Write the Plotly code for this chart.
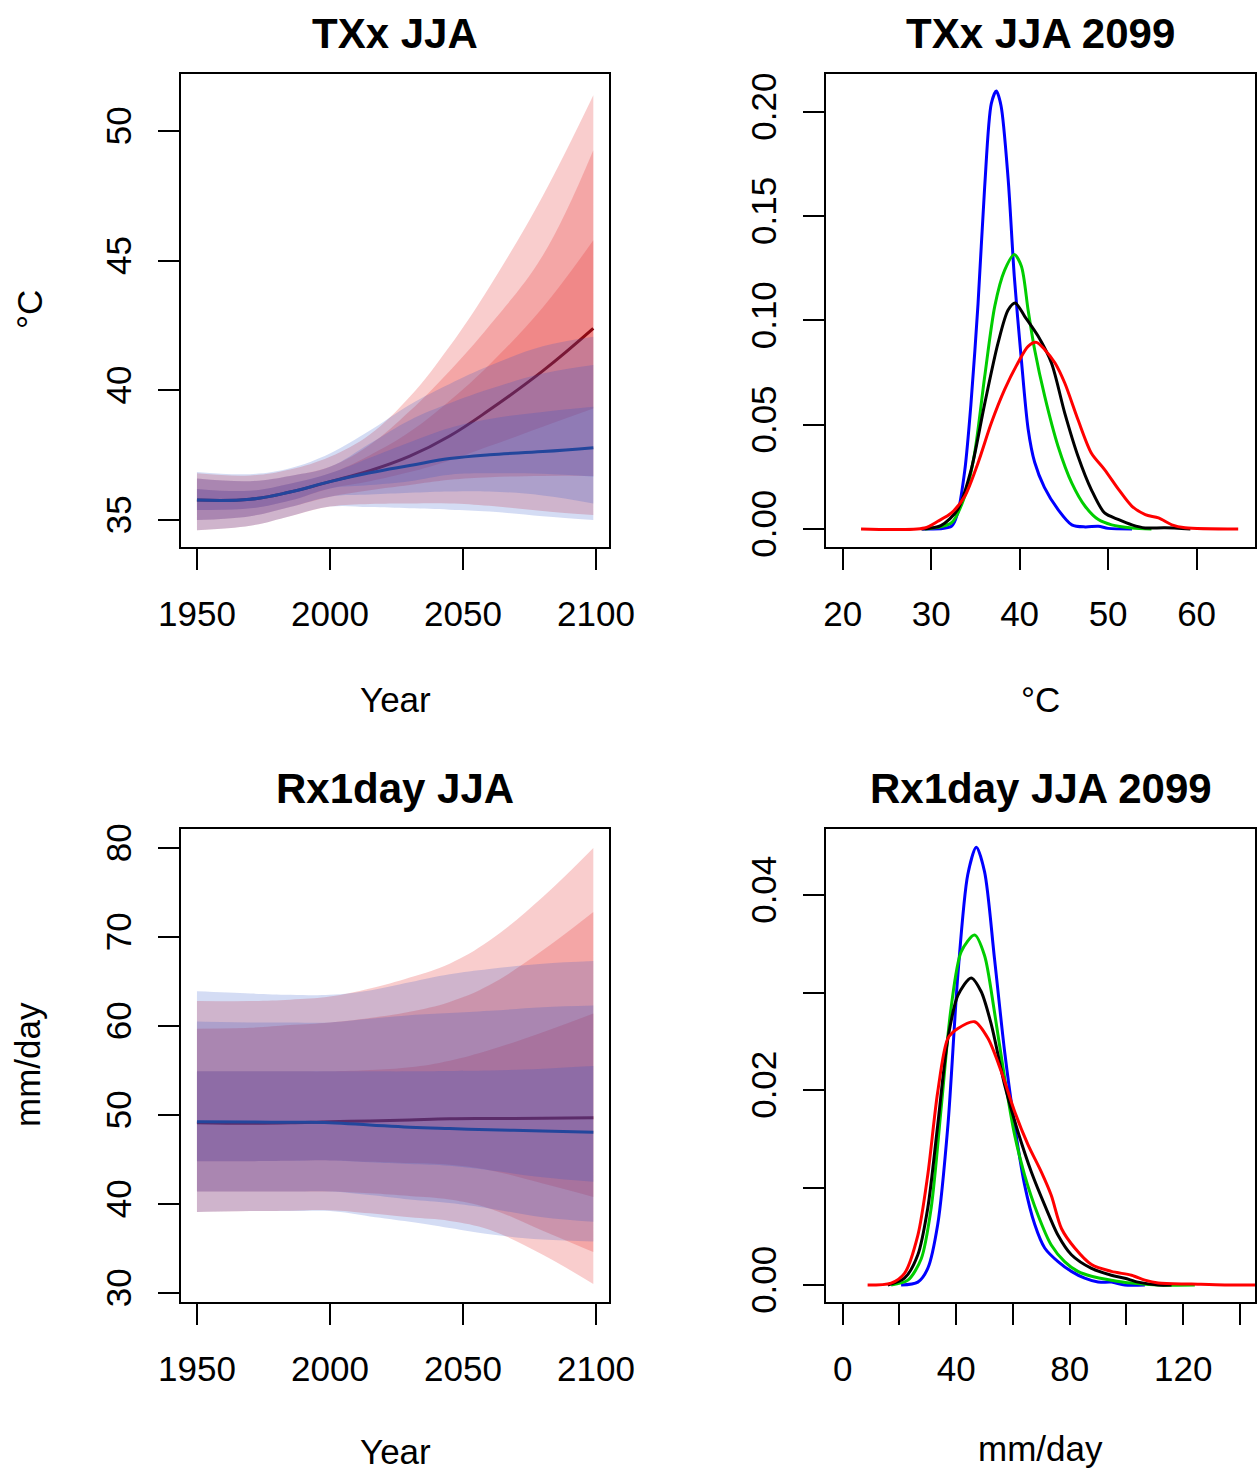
import plotly.graph_objects as go

# ---------------- data ----------------
years = [1950, 1970, 1985, 2000, 2015, 2030, 2045, 2060, 2080, 2099]

# TXx JJA (deg C) - high scenario (red)
txx_hi_med   = [35.77, 35.80, 36.08, 36.48, 36.90, 37.46, 38.24, 39.25, 40.75, 42.39]
txx_hi_in_lo = [35.39, 35.45, 35.75, 36.22, 36.50, 36.85, 37.30, 37.85, 38.60, 39.30]
txx_hi_in_hi = [36.20, 36.13, 36.40, 36.80, 37.50, 38.40, 39.60, 41.00, 43.20, 45.79]
txx_hi_md_lo = [35.00, 35.15, 35.50, 35.90, 36.15, 36.35, 36.55, 36.65, 36.70, 36.70]
txx_hi_md_hi = [36.60, 36.50, 36.70, 37.05, 37.90, 39.20, 40.75, 42.50, 45.20, 49.26]
txx_hi_ot_lo = [34.61, 34.78, 35.15, 35.52, 35.62, 35.64, 35.64, 35.55, 35.35, 35.19]
txx_hi_ot_hi = [36.80, 36.72, 36.95, 37.44, 38.30, 39.75, 41.70, 44.00, 47.50, 51.38]
# TXx JJA - low scenario (blue)
txx_lo_med   = [35.77, 35.80, 36.08, 36.48, 36.82, 37.10, 37.37, 37.52, 37.64, 37.79]
txx_lo_in_lo = [35.39, 35.45, 35.75, 36.22, 36.35, 36.50, 36.75, 36.80, 36.78, 36.67]
txx_lo_in_hi = [36.20, 36.13, 36.40, 36.80, 37.40, 38.00, 38.55, 38.90, 39.17, 39.37]
txx_lo_md_lo = [35.00, 35.15, 35.50, 35.90, 35.98, 36.05, 36.10, 36.10, 35.95, 35.64]
txx_lo_md_hi = [36.60, 36.50, 36.70, 37.05, 37.95, 38.85, 39.50, 40.05, 40.65, 40.98]
txx_lo_ot_lo = [34.61, 34.78, 35.15, 35.52, 35.50, 35.45, 35.40, 35.33, 35.15, 35.00]
txx_lo_ot_hi = [36.85, 36.77, 37.00, 37.57, 38.45, 39.45, 40.25, 40.95, 41.70, 42.07]

# Rx1day JJA (mm/day) - high scenario (red)
rx_hi_med   = [49.14, 49.07, 49.12, 49.25, 49.33, 49.45, 49.57, 49.60, 49.62, 49.70]
rx_hi_in_lo = [44.80, 44.80, 44.85, 44.90, 44.75, 44.60, 44.40, 43.80, 42.30, 40.80]
rx_hi_in_hi = [54.90, 54.90, 54.90, 54.90, 55.05, 55.35, 56.10, 57.30, 59.30, 61.40]
rx_hi_md_lo = [41.40, 41.40, 41.40, 41.40, 41.20, 40.90, 40.50, 39.50, 37.00, 34.60]
rx_hi_md_hi = [59.70, 59.80, 60.10, 60.40, 60.90, 61.60, 62.70, 64.60, 68.50, 72.80]
rx_hi_ot_lo = [39.10, 39.20, 39.25, 39.30, 38.95, 38.50, 38.10, 37.10, 34.30, 31.00]
rx_hi_ot_hi = [62.80, 62.80, 62.95, 63.30, 64.20, 65.45, 67.00, 69.60, 74.50, 80.00]
# Rx1day JJA - low scenario (blue)
rx_lo_med   = [49.25, 49.21, 49.18, 49.14, 48.88, 48.62, 48.47, 48.35, 48.20, 48.05]
rx_lo_in_lo = [44.80, 44.80, 44.85, 44.90, 44.70, 44.50, 44.30, 43.80, 43.00, 42.50]
rx_lo_in_hi = [54.90, 54.90, 54.90, 54.90, 54.90, 54.90, 54.95, 55.00, 55.20, 55.50]
rx_lo_md_lo = [41.40, 41.40, 41.40, 41.40, 41.00, 40.50, 40.10, 39.50, 38.50, 38.00]
rx_lo_md_hi = [60.50, 60.40, 60.40, 60.40, 60.80, 61.20, 61.45, 61.70, 62.10, 62.30]
rx_lo_ot_lo = [39.10, 39.20, 39.20, 39.20, 38.60, 38.00, 37.30, 36.60, 36.00, 35.80]
rx_lo_ot_hi = [63.90, 63.65, 63.50, 63.50, 64.00, 64.90, 65.80, 66.40, 67.00, 67.30]

# TXx JJA 2099 densities
txd_blue_x = [29.0, 32.3, 33.0, 33.8, 34.5, 35.3, 36.05, 36.8, 37.37, 37.9, 38.7, 39.4, 40.2, 40.96, 41.7, 42.8, 44.35, 45.9, 47.4, 48.9, 50.0, 52.7]
txd_blue_y = [0.0, 0.0013, 0.0077, 0.028, 0.060, 0.108, 0.164, 0.204, 0.210, 0.203, 0.168, 0.121, 0.081, 0.048, 0.032, 0.020, 0.0093, 0.002, 0.001, 0.0013, 0.0003, 0.0]
txd_green_x = [29.3, 32.3, 33.8, 34.9, 36.05, 37.2, 38.3, 39.4, 40.2, 40.96, 41.7, 42.84, 44.35, 45.9, 47.4, 48.9, 50.4, 52.7, 54.9]
txd_green_y = [0.0, 0.003, 0.0157, 0.036, 0.073, 0.107, 0.124, 0.1316, 0.126, 0.105, 0.086, 0.0636, 0.0396, 0.022, 0.0109, 0.0045, 0.002, 0.0005, 0.0]
txd_black_x = [28.9, 31.1, 33.0, 34.5, 36.05, 37.55, 38.7, 39.5, 40.57, 42.1, 43.6, 45.1, 46.6, 48.1, 49.6, 51.2, 52.7, 54.2, 56.4, 59.3]
txd_black_y = [0.0, 0.0016, 0.0093, 0.028, 0.060, 0.089, 0.105, 0.1084, 0.102, 0.0924, 0.0796, 0.0556, 0.0349, 0.0189, 0.0077, 0.0045, 0.002, 0.0005, 0.0006, 0.0]
txd_red_x = [22.08, 29.25, 30.76, 32.3, 33.8, 35.3, 36.8, 38.3, 39.8, 40.96, 41.9, 42.84, 44.0, 45.1, 46.6, 48.1, 49.6, 51.2, 52.7, 54.2, 55.7, 57.2, 58.7, 64.7]
txd_red_y = [0.0, 0.0005, 0.0037, 0.0077, 0.0157, 0.0317, 0.0508, 0.0668, 0.0796, 0.0876, 0.0895, 0.086, 0.0796, 0.070, 0.0524, 0.0365, 0.0285, 0.0189, 0.0109, 0.0069, 0.0053, 0.002, 0.0006, 0.0]

# Rx1day JJA 2099 densities
rxd_blue_x = [20.6, 26.5, 30.0, 33.5, 37.1, 40.6, 44.1, 47.1, 50.0, 53.5, 57.1, 60.6, 64.1, 67.7, 71.2, 75.9, 80.6, 85.3, 90.0, 94.7, 99.4, 106.5]
rxd_blue_y = [0.0, 0.0003, 0.0017, 0.0062, 0.0164, 0.0318, 0.0421, 0.0449, 0.0424, 0.0335, 0.0239, 0.0164, 0.0103, 0.0062, 0.0038, 0.0024, 0.0014, 0.0007, 0.0003, 0.0003, 0.0, 0.0]
rxd_green_x = [17.1, 23.0, 27.7, 31.2, 34.7, 38.2, 41.8, 46.5, 50.0, 53.5, 57.1, 60.6, 64.1, 68.8, 73.5, 78.2, 82.9, 87.7, 94.7, 101.8, 111.2, 124.1]
rxd_green_y = [0.0, 0.0005, 0.0027, 0.0079, 0.0181, 0.0284, 0.0342, 0.0359, 0.0338, 0.028, 0.0212, 0.0154, 0.0113, 0.0072, 0.0041, 0.0024, 0.0014, 0.0009, 0.0005, 0.0002, 0.0, 0.0]
rxd_black_x = [15.9, 21.8, 26.5, 30.0, 33.5, 37.1, 40.6, 45.3, 48.8, 52.4, 57.1, 61.8, 66.5, 71.2, 75.9, 80.6, 87.7, 94.7, 99.4, 104.1, 111.2, 115.9]
rxd_black_y = [0.0, 0.0007, 0.0031, 0.0079, 0.0164, 0.0253, 0.0297, 0.0315, 0.0301, 0.0267, 0.0205, 0.0157, 0.0116, 0.0082, 0.0051, 0.0031, 0.0017, 0.001, 0.0007, 0.0003, 0.0, 0.0]
rxd_red_x = [8.8, 17.1, 21.8, 26.5, 30.0, 33.5, 37.1, 40.6, 46.5, 51.2, 55.9, 60.6, 65.3, 70.0, 73.5, 77.1, 81.8, 87.7, 94.7, 101.8, 106.5, 111.2, 122.9, 134.7, 150.0]
rxd_red_y = [0.0, 0.0002, 0.0012, 0.0051, 0.0113, 0.0198, 0.0253, 0.0263, 0.027, 0.0253, 0.0219, 0.0178, 0.0144, 0.0116, 0.0092, 0.0058, 0.0038, 0.0021, 0.0014, 0.001, 0.0005, 0.0002, 0.0001, 0.0, 0.0]

titles = ["TXx JJA", "TXx JJA 2099", "Rx1day JJA", "Rx1day JJA 2099"]

# ---------------- styling ----------------
W, H = 1259, 1473
FONT = "Liberation Sans, Arial, Helvetica, sans-serif"
RED_FILL = "rgba(228,40,40,0.23)"
BLUE_FILL = "rgba(40,80,200,0.2)"
RED_LINE = "#8e0a12"
BLUE_LINE = "#23469c"

boxes = {  # pixel boxes (left, right, top, bottom)
    1: (181, 609, 74, 547),
    2: (826, 1255, 74, 547),
    3: (181, 609, 829, 1302),
    4: (826, 1255, 829, 1302),
}

fig = go.Figure()


def axname(i, kind):
    return kind if i == 1 else f"{kind}{i}"


def refs(i):
    return (f"x{i}" if i > 1 else "x"), (f"y{i}" if i > 1 else "y")


def band(i, lo, hi, color):
    xa, ya = refs(i)
    fig.add_trace(go.Scatter(x=years, y=lo, mode="lines", line=dict(width=0, shape="spline", smoothing=1.1),
                             xaxis=xa, yaxis=ya, showlegend=False, hoverinfo="skip"))
    fig.add_trace(go.Scatter(x=years, y=hi, mode="lines", line=dict(width=0, shape="spline", smoothing=1.1),
                             fill="tonexty", fillcolor=color,
                             xaxis=xa, yaxis=ya, showlegend=False, hoverinfo="skip"))


def line(i, x, y, color, width, smooth=0.8):
    xa, ya = refs(i)
    fig.add_trace(go.Scatter(x=x, y=y, mode="lines",
                             line=dict(color=color, width=width, shape="spline", smoothing=smooth),
                             xaxis=xa, yaxis=ya, showlegend=False, hoverinfo="skip"))


# Panel 1: TXx JJA
for lo, hi in [(txx_hi_ot_lo, txx_hi_ot_hi), (txx_hi_md_lo, txx_hi_md_hi), (txx_hi_in_lo, txx_hi_in_hi)]:
    band(1, lo, hi, RED_FILL)
line(1, years, txx_hi_med, RED_LINE, 3, 1.2)
for lo, hi in [(txx_lo_ot_lo, txx_lo_ot_hi), (txx_lo_md_lo, txx_lo_md_hi), (txx_lo_in_lo, txx_lo_in_hi)]:
    band(1, lo, hi, BLUE_FILL)
line(1, years, txx_lo_med, BLUE_LINE, 3, 1.2)

# Panel 3: Rx1day JJA
for lo, hi in [(rx_hi_ot_lo, rx_hi_ot_hi), (rx_hi_md_lo, rx_hi_md_hi), (rx_hi_in_lo, rx_hi_in_hi)]:
    band(3, lo, hi, RED_FILL)
line(3, years, rx_hi_med, RED_LINE, 3, 1.2)
for lo, hi in [(rx_lo_ot_lo, rx_lo_ot_hi), (rx_lo_md_lo, rx_lo_md_hi), (rx_lo_in_lo, rx_lo_in_hi)]:
    band(3, lo, hi, BLUE_FILL)
line(3, years, rx_lo_med, BLUE_LINE, 3, 1.2)

# Panel 2: TXx densities
line(2, txd_blue_x, txd_blue_y, "#0000ff", 3)
line(2, txd_green_x, txd_green_y, "#00cd00", 3)
line(2, txd_black_x, txd_black_y, "#000000", 3)
line(2, txd_red_x, txd_red_y, "#ff0000", 3)

# Panel 4: Rx1day densities
line(4, rxd_blue_x, rxd_blue_y, "#0000ff", 3)
line(4, rxd_green_x, rxd_green_y, "#00cd00", 3)
line(4, rxd_black_x, rxd_black_y, "#000000", 3)
line(4, rxd_red_x, rxd_red_y, "#ff0000", 3)

ranges = {
    1: ([1944.0, 2104.9], [33.96, 52.2]),
    2: ([18.12, 66.6], [-0.00863, 0.2182]),
    3: ([1944.0, 2104.9], [28.99, 82.13]),
    4: ([-5.86, 145.3], [-0.00174, 0.04677]),
}
xticks = {
    1: ([1950, 2000, 2050, 2100], ["1950", "2000", "2050", "2100"]),
    2: ([20, 30, 40, 50, 60], ["20", "30", "40", "50", "60"]),
    3: ([1950, 2000, 2050, 2100], ["1950", "2000", "2050", "2100"]),
    4: ([0, 20, 40, 60, 80, 100, 120, 140], ["0", "", "40", "", "80", "", "120", ""]),
}
yticks = {
    1: ([35, 40, 45, 50], ["35", "40", "45", "50"]),
    2: ([0.0, 0.05, 0.10, 0.15, 0.20], ["0.00", "0.05", "0.10", "0.15", "0.20"]),
    3: ([30, 40, 50, 60, 70, 80], ["30", "40", "50", "60", "70", "80"]),
    4: ([0.0, 0.01, 0.02, 0.03, 0.04], ["0.00", "", "0.02", "", "0.04"]),
}

layout = dict(width=W, height=H, margin=dict(l=0, r=0, t=0, b=0, autoexpand=False),
              paper_bgcolor="white", plot_bgcolor="white", showlegend=False,
              font=dict(family=FONT, size=35, color="black"))
common = dict(showgrid=False, zeroline=False, showline=True, linecolor="black", linewidth=2,
              mirror=True, ticks="outside", ticklen=21, tickwidth=2, tickcolor="black",
              tickfont=dict(family=FONT, size=35, color="black"), fixedrange=True,
              automargin=False)
for i, (l, r, t, b) in boxes.items():
    xr, yr = ranges[i]
    layout[axname(i, "xaxis")] = dict(common, domain=[l / W, r / W], range=xr,
                                      tickmode="array", tickvals=xticks[i][0], ticktext=xticks[i][1],
                                      anchor=axname(i, "y"), ticklabelstandoff=14)
    layout[axname(i, "yaxis")] = dict(common, domain=[1 - b / H, 1 - t / H], range=yr,
                                      tickmode="array", tickvals=yticks[i][0], ticktext=yticks[i][1],
                                      anchor=axname(i, "x"), tickangle=-90, ticklabelstandoff=13)
fig.update_layout(**layout)

ann = []
for i, (l, r, t, b) in boxes.items():
    cx = (l + r) / 2 / W
    ty = 33 if i <= 2 else 789
    ann.append(dict(text=f"<b>{titles[i-1]}</b>", x=cx, y=1 - ty / H, xref="paper", yref="paper",
                    showarrow=False, xanchor="center", yanchor="middle",
                    font=dict(family=FONT, size=42, color="black")))
xlabels = {1: ("Year", 700), 2: ("°C", 700), 3: ("Year", 1451), 4: ("mm/day", 1448)}
for i, (txt, yy) in xlabels.items():
    l, r, t, b = boxes[i]
    ann.append(dict(text=txt, x=(l + r) / 2 / W, y=1 - yy / H, xref="paper", yref="paper",
                    showarrow=False, xanchor="center", yanchor="middle",
                    font=dict(family=FONT, size=35, color="black")))
ann.append(dict(text="°C", x=30 / W, y=1 - 310 / H, xref="paper", yref="paper", textangle=-90,
                showarrow=False, xanchor="center", yanchor="middle", font=dict(family=FONT, size=35)))
ann.append(dict(text="mm/day", x=27 / W, y=1 - 1065 / H, xref="paper", yref="paper", textangle=-90,
                showarrow=False, xanchor="center", yanchor="middle", font=dict(family=FONT, size=35)))
fig.update_layout(annotations=ann)

fig.write_html("out.html")
